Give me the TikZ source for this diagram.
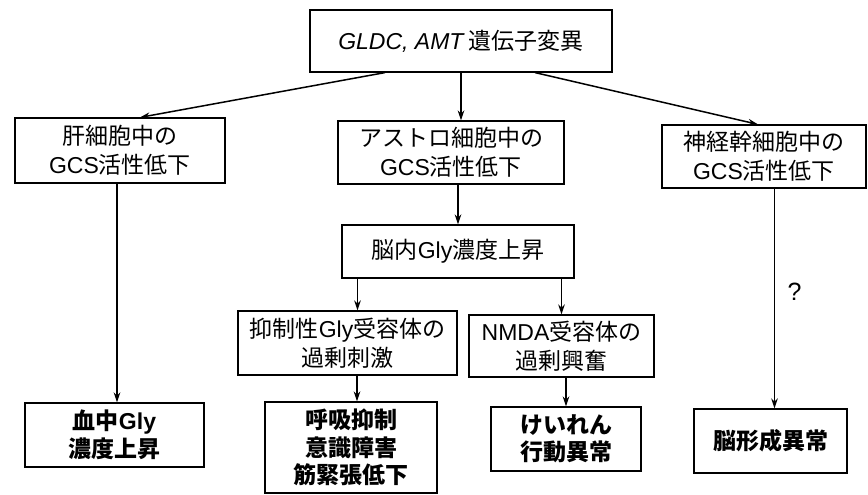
\documentclass[tikz,border=0pt]{standalone}
\usepackage{fontspec}
\setmainfont{Noto Sans CJK JP}
\newfontfamily\lf{Liberation Sans}
\usetikzlibrary{arrows.meta,calc}
\tikzset{
  box/.style={draw, line width=1.2pt, align=center, inner sep=0pt,
    font=\fontsize{23}{29}\selectfont},
  res/.style={box, font=\fontsize{23}{27.5}\selectfont\bfseries},
  arr/.style={line width=1.5pt, -{Stealth[length=10pt,width=6.5pt]}},
}
\begin{document}
\begin{tikzpicture}[x=1pt,y=-1pt]
\useasboundingbox (0,0) rectangle (868,495);
\node[box, minimum width=302pt, minimum height=62pt] (top) at (461,41) {{\lf\itshape GLDC, AMT} 遺伝子変異};
\node[box, minimum width=210pt, minimum height=65pt] (liver) at (120,150.5) {肝細胞中の\\{\lf GCS}活性低下};
\node[box, minimum width=226pt, minimum height=63pt] (astro) at (451,152.5) {アストロ細胞中の\\{\lf GCS}活性低下};
\node[box, minimum width=204pt, minimum height=63pt] (neuro) at (764,156.5) {神経幹細胞中の\\{\lf GCS}活性低下};
\node[box, minimum width=232pt, minimum height=53pt] (bgly) at (458,251.5) {脳内{\lf Gly}濃度上昇};
\node[box, minimum width=219pt, minimum height=64pt] (inhib) at (347.5,343) {抑制性{\lf Gly}受容体の\\過剰刺激};
\node[box, minimum width=185pt, minimum height=62pt] (nmda) at (561.5,346) {{\lf NMDA}受容体の\\過剰興奮};
\node[res, minimum width=179pt, minimum height=64pt] (blood) at (114.5,435) {血中{\lf\bfseries Gly}\\濃度上昇};
\node[res, minimum width=172pt, minimum height=91pt] (resp) at (351,447.5) {呼吸抑制\\意識障害\\筋緊張低下};
\node[res, minimum width=150pt, minimum height=64pt] (seiz) at (566,439) {けいれん\\行動異常};
\node[res, minimum width=153pt, minimum height=64pt] (bform) at (770.5,441) {脳形成異常};

\draw[arr] ([xshift=-76pt]top.south) -- ([xshift=20pt]liver.north);
\draw[arr] (top.south) -- (top.south |- astro.north);
\draw[arr] ([xshift=74pt]top.south) -- ([xshift=-6pt]neuro.north);
\draw[arr] ([xshift=-3pt]liver.south) -- ([xshift=-3pt]liver.south |- blood.north);
\draw[arr] (bgly.north |- astro.south) -- (bgly.north);
\draw[arr] ([xshift=10pt]inhib.north |- bgly.south) -- ([xshift=10pt]inhib.north);
\draw[arr] (nmda.north |- bgly.south) -- (nmda.north);
\draw[arr] ([xshift=6pt]resp.north |- inhib.south) -- ([xshift=6pt]resp.north);
\draw[arr] (seiz.north |- nmda.south) -- (seiz.north);
\draw[arr] ([xshift=4pt]bform.north |- neuro.south) -- coordinate[pos=0.47] (qm) ([xshift=4pt]bform.north);
\node[font=\fontsize{25}{27}\selectfont\lf] (q) at ($(qm)+(20,0)$) {?};
\end{tikzpicture}
\end{document}
